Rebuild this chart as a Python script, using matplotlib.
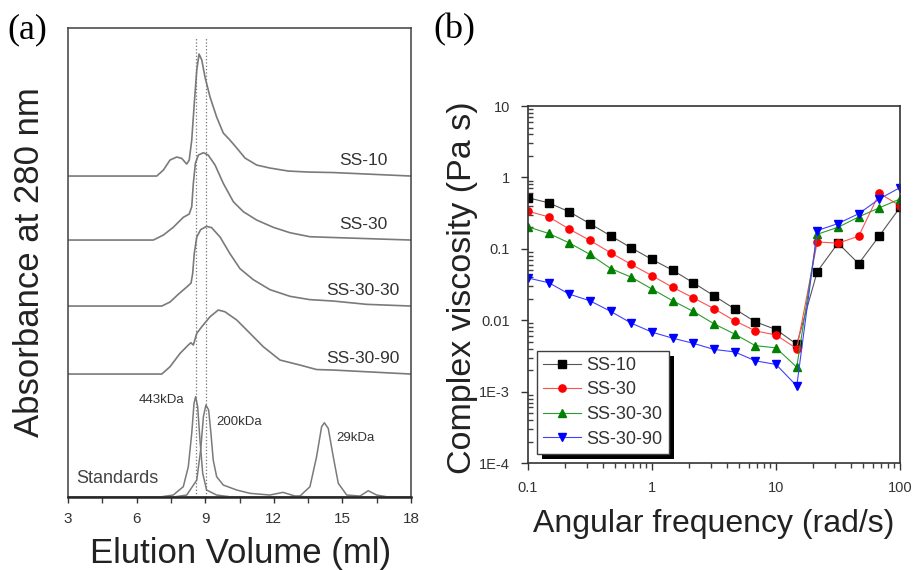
import numpy as np
import matplotlib
matplotlib.use("Agg")
import matplotlib.pyplot as plt
from matplotlib.patches import Rectangle
from matplotlib.ticker import NullFormatter

plt.rcParams["font.family"] = ["Liberation Sans", "DejaVu Sans"]

# ----------------------------
# (a) size exclusion traces, elution volume (ml) vs absorbance (a.u.)
# ----------------------------
ss10_ml = [3.0, 6.88, 7.17, 7.46, 7.75, 7.97, 8.19, 8.30, 8.41, 8.51, 8.63, 8.73, 8.85,
           8.99, 9.21, 9.50, 9.79, 10.08, 10.38, 10.74, 11.25, 11.83, 12.63, 13.5, 14.59,
           16.06, 18.0]
ss10_abs = [0.0, 0.0, 0.06, 0.16, 0.19, 0.177, 0.12, 0.16, 0.36, 0.69, 1.06, 1.22, 1.16,
            0.99, 0.79, 0.59, 0.43, 0.36, 0.28, 0.18, 0.11, 0.08, 0.05, 0.04, 0.035,
            0.02, 0.0]

ss30_ml = [3.0, 6.73, 7.17, 7.60, 8.04, 8.30, 8.41, 8.48, 8.57, 8.70, 8.92, 9.13, 9.43,
           9.79, 10.23, 10.67, 11.25, 11.98, 12.71, 13.58, 15.3, 18.0]
ss30_abs = [0.0, 0.0, 0.05, 0.127, 0.227, 0.26, 0.333, 0.567, 0.767, 0.85, 0.873, 0.85,
            0.75, 0.567, 0.383, 0.283, 0.20, 0.127, 0.073, 0.033, 0.02, 0.0]

ss3030_ml = [3.0, 7.10, 7.46, 7.82, 8.19, 8.38, 8.45, 8.52, 8.63, 8.80, 9.06, 9.28, 9.65,
             10.08, 10.52, 11.10, 11.83, 12.71, 13.58, 14.6, 16.06, 18.0]
ss3030_abs = [0.0, 0.0, 0.04, 0.117, 0.19, 0.23, 0.324, 0.524, 0.69, 0.764, 0.797, 0.784,
              0.69, 0.524, 0.374, 0.264, 0.164, 0.097, 0.064, 0.05, 0.017, 0.0]

ss3090_ml = [3.0, 7.10, 7.46, 7.90, 8.26, 8.37, 8.48, 8.63, 8.85, 9.21, 9.57, 9.86, 10.38,
             10.96, 11.54, 12.27, 13.14, 13.87, 14.59, 18.0]
ss3090_abs = [0.0, 0.0, 0.073, 0.207, 0.29, 0.313, 0.29, 0.407, 0.473, 0.573, 0.64, 0.623,
              0.54, 0.407, 0.273, 0.14, 0.09, 0.045, 0.04, 0.0]

std443_ml = [3.0, 7.0, 7.60, 8.04, 8.26, 8.41, 8.51, 8.58, 8.67, 8.77, 8.89, 9.06, 9.50,
             10.08, 18.0]
std443_abs = [0.0, 0.0, 0.02, 0.103, 0.303, 0.637, 0.937, 1.003, 0.903, 0.57, 0.237, 0.07,
              0.02, 0.003, 0.0]

std200_ml = [3.0, 7.6, 8.19, 8.63, 8.80, 8.92, 9.03, 9.15, 9.25, 9.35, 9.50, 9.79, 10.38,
             10.96, 11.83, 12.40, 12.93, 13.58, 18.0]
std200_abs = [0.0, 0.0, 0.02, 0.17, 0.47, 0.803, 0.92, 0.87, 0.637, 0.37, 0.203, 0.12, 0.07,
              0.037, 0.02, 0.047, 0.01, 0.0, 0.0]

std29_ml = [3.0, 12.5, 13.14, 13.58, 13.87, 14.09, 14.21, 14.38, 14.60, 14.82, 15.19, 15.77,
            16.13, 16.50, 16.94, 18.0]
std29_abs = [0.0, 0.0, 0.01, 0.103, 0.403, 0.703, 0.743, 0.687, 0.403, 0.137, 0.02, 0.01,
             0.063, 0.02, 0.003, 0.0]

sample_names = ["SS-10", "SS-30", "SS-30-30", "SS-30-90"]
sample_offsets = [3.21, 2.57, 1.91, 1.23]
std_names = ["443kDa", "200kDa", "29kDa"]
std_peak_ml = [8.58, 9.05]
elution_ticks = [3, 6, 9, 12, 15, 18]

# ----------------------------
# (b) complex viscosity vs angular frequency
# ----------------------------
freq = [0.1, 0.147, 0.215, 0.316, 0.464, 0.681, 1.0, 1.47, 2.15, 3.16, 4.64, 6.81, 10.0,
        14.7, 21.5, 31.6, 46.4, 68.1, 100.0]
visc_ss10 = [0.52, 0.44, 0.33, 0.225, 0.152, 0.103, 0.071, 0.050, 0.0335, 0.022, 0.0144,
             0.0095, 0.0074, 0.0046, 0.048, 0.12, 0.062, 0.152, 0.38]
visc_ss30 = [0.336, 0.28, 0.189, 0.131, 0.088, 0.0605, 0.042, 0.0288, 0.0206, 0.0145,
             0.0098, 0.0071, 0.0062, 0.0040, 0.125, 0.12, 0.15, 0.60, 0.40]
visc_ss3030 = [0.203, 0.164, 0.121, 0.0835, 0.053, 0.040, 0.0273, 0.0187, 0.0133, 0.0089,
               0.0064, 0.0044, 0.0041, 0.0022, 0.16, 0.20, 0.28, 0.375, 0.50]
visc_ss3090 = [0.039, 0.0335, 0.0232, 0.0187, 0.0133, 0.0091, 0.0068, 0.0056, 0.00475,
               0.0039, 0.0036, 0.0027, 0.0024, 0.0012, 0.18, 0.226, 0.31, 0.50, 0.72]

visc_ticks = [1e-4, 1e-3, 0.01, 0.1, 1, 10]
visc_ticklabels = ["1E-4", "1E-3", "0.01", "0.1", "1", "10"]
freq_ticks = [0.1, 1, 10, 100]
freq_ticklabels = ["0.1", "1", "10", "100"]

TXT = "#333333"
TRACE = "#7a7a7a"

fig = plt.figure(figsize=(9.17, 5.70), dpi=100)

# ---- panel (a)
ax = fig.add_axes([0.0742, 0.128, 0.374, 0.8228])
traces = [(ss10_ml, ss10_abs), (ss30_ml, ss30_abs), (ss3030_ml, ss3030_abs), (ss3090_ml, ss3090_abs)]
for (xs, ys), off, name in zip(traces, sample_offsets, sample_names):
    ax.plot(xs, np.array(ys) + off, color=TRACE, lw=1.2)
    ax.text(15.9, off + 0.16, name, ha="center", va="center", fontsize=12.5, color=TXT)

for xs, ys in [(std443_ml, std443_abs), (std200_ml, std200_abs), (std29_ml, std29_abs)]:
    ax.plot(xs, ys, color=TRACE, lw=1.1)

for xp in std_peak_ml:
    ax.vlines(xp, 0, 4.59, colors="0.45", linestyles=":", lw=0.9)

ax.text(7.07, 0.97, std_names[0], ha="center", va="center", fontsize=9.5, color=TXT)
ax.text(10.48, 0.75, std_names[1], ha="center", va="center", fontsize=9.5, color=TXT)
ax.text(15.55, 0.59, std_names[2], ha="center", va="center", fontsize=9.5, color=TXT)
ax.text(3.35, 0.185, "Standards", ha="left", va="center", fontsize=13, color="#444444")

ax.set_xlim(3, 18)
ax.set_ylim(0, 4.69)
ax.set_yticks([])
ax.set_xticks(elution_ticks)
ax.set_xticks(np.array(elution_ticks[:-1]) + 1.5, minor=True)
ax.tick_params(axis="x", which="major", direction="out", length=4, width=1, pad=7,
               labelsize=11, colors=TXT)
ax.tick_params(axis="x", which="minor", direction="out", length=4, width=1,
               bottom=True, color="0.25")
for s in ["top", "right", "left"]:
    ax.spines[s].set_color("0.25")
    ax.spines[s].set_linewidth(1.1)
ax.spines["bottom"].set_color("0.15")
ax.spines["bottom"].set_linewidth(1.8)

fig.text(0.0327, 0.540, "Absorbance at 280 nm", rotation=90, ha="center", va="center",
         fontsize=25, color="#222222")
fig.text(0.2628, 0.0118, "Elution Volume (ml)", ha="center", va="baseline",
         fontsize=25, color="#222222")

# ---- panel (b)
bx = fig.add_axes([0.5758, 0.1877, 0.4057, 0.6263])
series = [
    (visc_ss10, "#000000", "#555555", "s", sample_names[0]),
    (visc_ss30, "#ff0000", "#ff5050", "o", sample_names[1]),
    (visc_ss3030, "#008000", "#2e9a2e", "^", sample_names[2]),
    (visc_ss3090, "#0000ff", "#4040ff", "v", sample_names[3]),
]
for vals, mc, lc, mk, name in series:
    bx.plot(freq, vals, color=lc, lw=0.8, marker=mk, markersize=5.2,
            markerfacecolor=mc, markeredgecolor=mc, label=name)

bx.set_xscale("log")
bx.set_yscale("log")
bx.set_xlim(0.1, 100)
bx.set_ylim(1e-4, 10)
bx.set_yticks(visc_ticks)
bx.set_yticklabels(visc_ticklabels)
bx.set_xticks(freq_ticks)
bx.set_xticklabels(freq_ticklabels)
# minor ticks at 2..9 within every decade
subs = np.arange(2, 10)
bx.set_yticks(np.outer(visc_ticks[:-1], subs).ravel(), minor=True)
bx.set_xticks(np.outer(freq_ticks[:-1], subs).ravel(), minor=True)
bx.yaxis.set_minor_formatter(NullFormatter())
bx.xaxis.set_minor_formatter(NullFormatter())
bx.tick_params(which="major", direction="out", length=5, width=1, pad=8,
               labelsize=10.5, colors=TXT)
bx.tick_params(axis="x", which="minor", direction="out", length=3.5, width=1,
               bottom=True, color="0.25")
bx.tick_params(axis="y", which="minor", direction="in", length=3.5, width=1,
               left=True, color="0.25")
for s in bx.spines.values():
    s.set_color("0.2")
    s.set_linewidth(1.2)

leg = bx.legend(loc="lower left", fontsize=13, frameon=True, fancybox=False, shadow=False,
                borderaxespad=0.5, borderpad=0.35, labelspacing=0.42, handlelength=2.1,
                handletextpad=0.3, framealpha=1)
leg.get_frame().set_edgecolor("0.25")
leg.get_frame().set_linewidth(1.0)
leg.set_zorder(5)
for t in leg.get_texts():
    t.set_color(TXT)

# thick offset shadow behind the legend box
fig.canvas.draw()
bb = leg.get_frame().get_window_extent().transformed(bx.transAxes.inverted())
dx = 5 / (0.4057 * 917)
dy = 5 / (0.6263 * 570)
bx.add_patch(Rectangle((bb.x0 + dx, bb.y0 - dy), bb.width, bb.height,
                       transform=bx.transAxes, facecolor="black", edgecolor="none",
                       clip_on=False, zorder=4.9))

fig.text(0.504, 0.4956, "Complex viscosity (Pa s)", rotation=90, ha="center", va="center",
         fontsize=24.5, color="#222222")
fig.text(0.778, 0.0672, "Angular frequency (rad/s)", ha="center", va="baseline",
         fontsize=23, color="#222222")

# panel letters
fig.text(0.008, 0.977, "(a)", fontsize=26, va="top", family=["Liberation Serif", "DejaVu Serif"])
fig.text(0.473, 0.977, "(b)", fontsize=26, va="top", family=["Liberation Serif", "DejaVu Serif"])

fig.savefig("out.png", dpi=100)
